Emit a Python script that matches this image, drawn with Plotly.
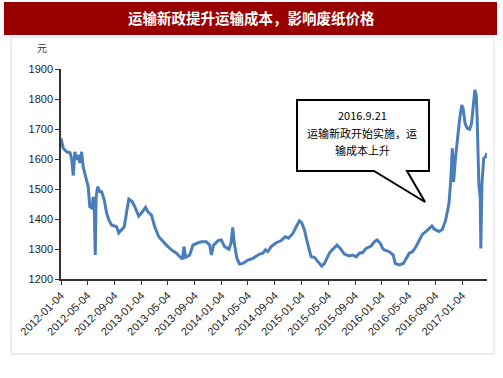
import plotly.graph_objects as go

title_text = "运输新政提升运输成本，影响废纸价格"
y_unit = "元"
callout_lines = ["2016.9.21", "运输新政开始实施，运", "输成本上升"]

dates = [
    "2012-01-04", "2012-01-14", "2012-01-30", "2012-02-14", "2012-02-21", "2012-02-29",
    "2012-03-07", "2012-03-15", "2012-03-22", "2012-03-30", "2012-04-07", "2012-04-14",
    "2012-04-29", "2012-05-07", "2012-05-14", "2012-05-25", "2012-05-29", "2012-06-03",
    "2012-06-08", "2012-06-12", "2012-06-19", "2012-06-29", "2012-07-07", "2012-07-19",
    "2012-07-30", "2012-08-09", "2012-08-21", "2012-09-13", "2012-09-23", "2012-10-06",
    "2012-10-18", "2012-10-29", "2012-11-08", "2012-11-23", "2012-12-05", "2012-12-23",
    "2013-01-04", "2013-01-23", "2013-02-03", "2013-02-19", "2013-03-06", "2013-03-24",
    "2013-04-13", "2013-04-28", "2013-05-21", "2013-06-13", "2013-06-28", "2013-07-10",
    "2013-07-17", "2013-07-25", "2013-08-12", "2013-08-27", "2013-09-12", "2013-10-04",
    "2013-10-27", "2013-11-11", "2013-11-19", "2013-11-29", "2013-12-19", "2014-01-03",
    "2014-01-18", "2014-02-07", "2014-02-16", "2014-02-24", "2014-03-03", "2014-03-15",
    "2014-03-27", "2014-04-11", "2014-05-04", "2014-05-27", "2014-06-26", "2014-07-11",
    "2014-07-23", "2014-08-03", "2014-08-18", "2014-09-10", "2014-10-03", "2014-10-21",
    "2014-11-05", "2014-11-25", "2014-12-10", "2014-12-25", "2015-01-04", "2015-01-17",
    "2015-01-27", "2015-02-08", "2015-02-16", "2015-03-03", "2015-03-18", "2015-04-05",
    "2015-04-18", "2015-05-10", "2015-05-25", "2015-06-14", "2015-06-29", "2015-07-17",
    "2015-08-09", "2015-08-24", "2015-09-09", "2015-09-24", "2015-10-09", "2015-10-24",
    "2015-11-16", "2015-12-01", "2015-12-13", "2015-12-28", "2016-01-08", "2016-01-15",
    "2016-02-07", "2016-02-25", "2016-03-05", "2016-03-23", "2016-04-11", "2016-04-23",
    "2016-05-08", "2016-05-23", "2016-06-08", "2016-06-23", "2016-07-08", "2016-07-23",
    "2016-08-07", "2016-08-19", "2016-08-30", "2016-09-09", "2016-09-21", "2016-10-06",
    "2016-10-21", "2016-11-05", "2016-11-13", "2016-11-20", "2016-11-26", "2016-12-05",
    "2016-12-16", "2016-12-24", "2017-01-02", "2017-01-08", "2017-01-17", "2017-01-27",
    "2017-02-07", "2017-02-16", "2017-02-23", "2017-03-03", "2017-03-09", "2017-03-13",
    "2017-03-21", "2017-03-27", "2017-03-30", "2017-04-04", "2017-04-12", "2017-04-21",
    "2017-04-26",
]

prices = [
    1669, 1636, 1624, 1621, 1602, 1545,
    1624, 1597, 1613, 1587, 1624, 1574,
    1530, 1508, 1441, 1436, 1474, 1441,
    1280, 1474, 1508, 1491, 1491, 1463,
    1419, 1397, 1380, 1374, 1354, 1366,
    1374, 1424, 1466, 1458, 1441, 1410,
    1419, 1439, 1424, 1413, 1374, 1341,
    1324, 1313, 1297, 1286, 1274, 1266,
    1308, 1272, 1280, 1313, 1319, 1324,
    1324, 1313, 1280, 1313, 1328, 1330,
    1308, 1299, 1319, 1372, 1319, 1269,
    1250, 1252, 1263, 1269, 1283, 1286,
    1297, 1291, 1308, 1321, 1328, 1341,
    1336, 1352, 1374, 1394, 1388, 1363,
    1330, 1297, 1274, 1272, 1258, 1243,
    1252, 1286, 1299, 1313, 1302, 1283,
    1277, 1280, 1274, 1286, 1288, 1302,
    1310, 1324, 1330, 1319, 1302, 1297,
    1291, 1280, 1252, 1247, 1252, 1269,
    1286, 1291, 1308, 1330, 1350, 1358,
    1369, 1377, 1366, 1363, 1358, 1366,
    1397, 1452, 1530, 1636, 1524, 1608,
    1697, 1736, 1780, 1769, 1719, 1702,
    1699, 1719, 1774, 1830, 1813, 1741,
    1513, 1474, 1302, 1519, 1602, 1608,
    1619,
]

tick_dates = [
    "2012-01-04", "2012-05-04", "2012-09-04", "2013-01-04", "2013-05-04", "2013-09-04",
    "2014-01-04", "2014-05-04", "2014-09-04", "2015-01-04", "2015-05-04", "2015-09-04",
    "2016-01-04", "2016-05-04", "2016-09-04", "2017-01-04",
]
y_ticks = [1200, 1300, 1400, 1500, 1600, 1700, 1800, 1900]

W, H = 503, 378
L, R, T, B = 61, 487, 69, 279
pw, ph = R - L, B - T


def px(x):
    return (x - L) / pw


def py(y):
    return (B - y) / ph


fig = go.Figure()
fig.add_trace(go.Scatter(
    x=dates, y=prices, mode="lines",
    line=dict(color="#4A7EBB", width=3),
    hoverinfo="skip",
))

shapes = [
    # outer light frame
    dict(type="rect", xref="paper", yref="paper",
         x0=px(11), x1=px(494), y0=py(354), y1=py(37),
         line=dict(color="#D9D9D9", width=1), fillcolor="rgba(0,0,0,0)", layer="below"),
    # title bar
    dict(type="rect", xref="paper", yref="paper",
         x0=px(4), x1=px(497), y0=py(35), y1=py(2),
         line=dict(width=0), fillcolor="#990000", layer="below"),
]

# callout box with pointer
cx0, cx1, cy0, cy1 = 297, 429, 100, 171
pts = [(cx0, cy0), (cx1, cy0), (cx1, cy1), (407, cy1), (425, 202), (374, cy1), (cx0, cy1)]
path = "M " + " L ".join(f"{px(a):.4f},{py(b):.4f}" for a, b in pts) + " Z"
shapes.append(dict(type="path", xref="paper", yref="paper", path=path,
                   line=dict(color="#000000", width=2), fillcolor="#FFFFFF", layer="above"))

annotations = [
    dict(text=f"<b>{title_text}</b>", xref="paper", yref="paper",
         x=px(251), y=py(18), showarrow=False,
         font=dict(family="Noto Sans CJK SC", size=14.5, color="#FFFFFF"),
         xanchor="center", yanchor="middle"),
    dict(text=y_unit, xref="paper", yref="paper", x=px(42), y=py(48),
         showarrow=False, font=dict(family="Noto Sans CJK SC", size=10, color="#333333"),
         xanchor="center", yanchor="middle"),
]
line_y = [115, 132.5, 149.5]
for t, yy in zip(callout_lines, line_y):
    annotations.append(dict(
        text=t, xref="paper", yref="paper", x=px(362), y=py(yy), showarrow=False,
        font=dict(family="Noto Sans CJK SC, Liberation Sans", size=11, color="#000000"),
        xanchor="center", yanchor="middle"))

fig.update_layout(
    width=W, height=H,
    margin=dict(l=L, r=W - R, t=T, b=H - B),
    paper_bgcolor="#FFFFFF", plot_bgcolor="#FFFFFF",
    showlegend=False,
    shapes=shapes,
    annotations=annotations,
    xaxis=dict(
        type="date",
        range=["2012-01-04", "2017-04-27"],
        tickvals=tick_dates, ticktext=tick_dates,
        tickangle=-45,
        ticks="outside", ticklen=4, tickcolor="#333333", tickwidth=1,
        showline=True, linecolor="#333333", linewidth=1.5,
        showgrid=False, zeroline=False,
        tickfont=dict(family="Liberation Sans, Arial", size=11, color="#222222"),
        fixedrange=True,
    ),
    yaxis=dict(
        range=[1200, 1900],
        tickvals=y_ticks,
        ticks="outside", ticklen=4, tickcolor="#333333", tickwidth=1,
        showline=True, linecolor="#333333", linewidth=1.5,
        showgrid=False, zeroline=False,
        tickfont=dict(family="Liberation Sans, Arial", size=11, color="#222222"),
        fixedrange=True,
    ),
)

fig.write_html("out.html", config={"displayModeBar": False})
